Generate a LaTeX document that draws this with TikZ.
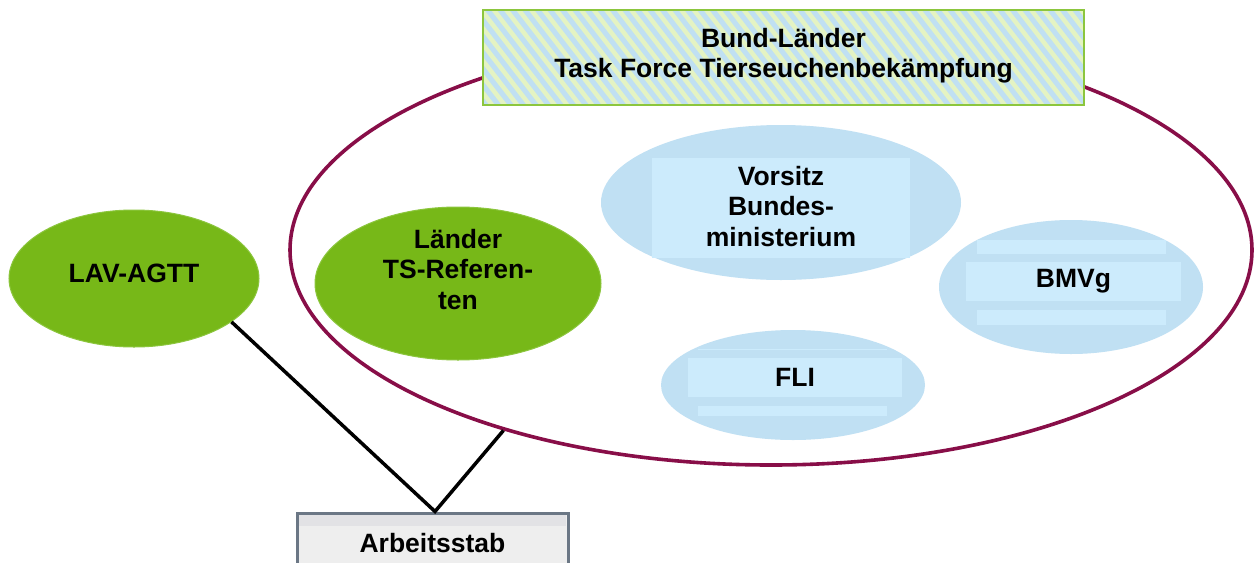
\documentclass[tikz,border=0pt]{standalone}
\usepackage{fontspec}
\setmainfont{Liberation Sans}
\usetikzlibrary{shapes.geometric}
\definecolor{maroon}{HTML}{880E48}
\definecolor{lgreen}{HTML}{77B818}
\definecolor{lgreenedge}{HTML}{8CC63E}
\definecolor{boxgreen}{HTML}{8CC63E}
\definecolor{stripeblue}{HTML}{C0E0F2}
\definecolor{stripegreen}{HTML}{E4F3C3}
\definecolor{bluefill}{HTML}{C0E0F3}
\definecolor{innerblue}{HTML}{CCEBFC}
\definecolor{arbedge}{HTML}{6B7785}
\definecolor{arbfill}{HTML}{E2E2E5}
\definecolor{arbinner}{HTML}{EEEEEE}
\newcommand{\lift}[2]{\raisebox{#1}[\height][\depth]{#2}}
\tikzset{
  txt/.style={font=\bfseries\fontsize{26.5}{30.5}\selectfont, align=center, text=black},
  bigell/.style={ellipse, draw=maroon, line width=3.6pt, inner sep=0pt},
  greenell/.style={ellipse, fill=lgreen, draw=lgreenedge, line width=1pt, inner sep=0pt, txt},
  blueell/.style={ellipse, fill=bluefill, inner sep=0pt},
  innerbox/.style={rectangle, fill=innerblue, inner sep=0pt, txt},
  tfbox/.style={rectangle, draw=boxgreen, line width=2pt, inner sep=0pt, txt},
  arbbox/.style={rectangle, draw=arbedge, fill=arbinner, line width=3pt, inner sep=0pt, txt},
  conn/.style={draw=black, line width=3.5pt}
}
\begin{document}
\begin{tikzpicture}[x=1pt,y=-1pt]
\clip (0,0) rectangle (1260,562);
\fill[white] (0,0) rectangle (1260,562);

% big ellipse
\node[bigell, minimum width=962pt, minimum height=430pt] (big) at (771,250) {};

% task force box with stripes
\begin{scope}
  \clip (483,10) rectangle (1084,105);
  \fill[stripeblue] (483,10) rectangle (1084,105);
  \foreach \i in {390,402.5,...,1100}
    \draw[stripegreen, line width=4.5pt] (\i,5) -- (\i+81,110);
\end{scope}
\node[tfbox, minimum width=601pt, minimum height=95pt] (tf) at (783.5,57.5)
  {\lift{1pt}{\begin{tabular}{@{}c@{}}Bund-Länder\\Task Force Tierseuchenbekämpfung\end{tabular}}};

% green ellipses
\node[greenell, minimum width=250pt, minimum height=137pt] (lav) at (134,278.5)
  {\lift{5.5pt}{LAV-AGTT}};
\node[greenell, minimum width=286pt, minimum height=153pt] (laender) at (458,283.5)
  {\lift{11pt}{\begin{tabular}{@{}c@{}}Länder\\TS-Referen-\\ten\end{tabular}}};

% Vorsitz
\node[blueell, minimum width=360pt, minimum height=155pt] (vors) at (781,202.5) {};
\node[innerbox, minimum width=258pt, minimum height=100pt] (vorsT) at (781,208)
  {\lift{-1.5pt}{\begin{tabular}{@{}c@{}}Vorsitz\\Bundes-\\ministerium\end{tabular}}};

% BMVg
\node[blueell, minimum width=264pt, minimum height=134pt] (bmvg) at (1071,287) {};
\fill[innerblue] (977,240) rectangle (1166,254);
\fill[innerblue] (977,310) rectangle (1166,325);
\node[innerbox, minimum width=215pt, minimum height=39pt] (bmvgT) at (1073.5,281.5) {BMVg};

% FLI
\node[blueell, minimum width=264pt, minimum height=110pt] (fli) at (793,385) {};
\draw[innerblue, line width=1pt] (698,349) -- (887,349);
\fill[innerblue] (698,406) rectangle (887,416);
\node[innerbox, minimum width=214pt, minimum height=39pt] (fliT) at (795,377.5) {FLI};

% Arbeitsstab
\node[arbbox, minimum width=271pt, minimum height=60pt] (arb) at (432.5,543) {Arbeitsstab};
\fill[arbfill] (299,515) rectangle (566,526);

% connectors
\coordinate (apex) at ([xshift=2.5pt]arb.north);
\draw[conn] (lav.-24) -- (apex) -- (big.214.8);
\end{tikzpicture}
\end{document}
